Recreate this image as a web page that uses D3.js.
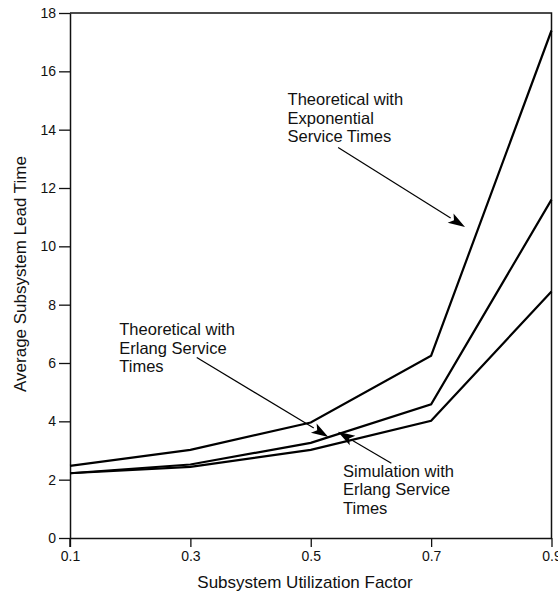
<!DOCTYPE html>
<html>
<head>
<meta charset="utf-8">
<script src="https://cdn.jsdelivr.net/npm/d3@7/dist/d3.min.js"></script>
<style>
  html, body { margin: 0; padding: 0; background: #fff; }
  svg { display: block; font-family: "Liberation Sans", Arial, Helvetica, sans-serif; }
</style>
</head>
<body>
<svg id="chart" width="558" height="594"></svg>
<script>
// Utilization factors on the x axis
const utilization = [0.1, 0.3, 0.5, 0.7, 0.9];

// Average subsystem lead time for each curve
const theoreticalExponential = [2.47, 3.02, 3.96, 6.25, 17.4];
const theoreticalErlang      = [2.22, 2.52, 3.26, 4.58, 11.6];
const simulationErlang       = [2.22, 2.44, 3.02, 4.02, 8.45];

// Axis ticks
const xTicks = [0.1, 0.3, 0.5, 0.7, 0.9];
const yTicks = [0, 2, 4, 6, 8, 10, 12, 14, 16, 18];

// Annotation texts
const labelExponential = ["Theoretical with", "Exponential", "Service Times"];
const labelErlang      = ["Theoretical with", "Erlang Service", "Times"];
const labelSimulation  = ["Simulation with", "Erlang Service", "Times"];

const svg = d3.select("#chart");
const plotLeft = 70, plotRight = 551.5, plotTop = 13, plotBottom = 538;

const x = d3.scaleLinear().domain([0.1, 0.9]).range([plotLeft, plotRight]);
const y = d3.scaleLinear().domain([0, 18]).range([plotBottom, plotTop]);

// Frame (top and right edges)
svg.append("path")
  .attr("d", `M${plotLeft},${plotTop}H${plotRight}V${plotBottom}`)
  .attr("fill", "none")
  .attr("stroke", "#111")
  .attr("stroke-width", 1.5);

// Axes
const xAxis = svg.append("g")
  .attr("transform", `translate(0,${plotBottom})`)
  .call(d3.axisBottom(x).tickValues(xTicks).tickFormat(d3.format(".1f"))
    .tickSize(9).tickPadding(4).tickSizeOuter(0));
const yAxis = svg.append("g")
  .attr("transform", `translate(${plotLeft},0)`)
  .call(d3.axisLeft(y).tickValues(yTicks).tickFormat(d3.format("d"))
    .tickSize(11).tickPadding(3).tickSizeOuter(0));

[xAxis, yAxis].forEach(g => {
  g.select(".domain").attr("stroke", "#111").attr("stroke-width", 1.5);
  g.selectAll(".tick line").attr("stroke", "#111").attr("stroke-width", 1.3);
  g.selectAll(".tick text")
    .attr("fill", "#111")
    .style("font-family", "'Liberation Sans', Arial, sans-serif")
    .style("font-size", "14px");
});
// y axis line continues down to the x tick length
svg.append("line")
  .attr("x1", plotLeft).attr("x2", plotLeft)
  .attr("y1", plotBottom).attr("y2", plotBottom + 9)
  .attr("stroke", "#111").attr("stroke-width", 1.5);

// Axis titles
svg.append("text")
  .attr("x", 305).attr("y", 588)
  .attr("text-anchor", "middle")
  .attr("fill", "#111")
  .style("font-size", "17px")
  .text("Subsystem Utilization Factor");

svg.append("text")
  .attr("transform", "translate(26,274) rotate(-90)")
  .attr("text-anchor", "middle")
  .attr("fill", "#111")
  .style("font-size", "17px")
  .text("Average Subsystem Lead Time");

// Curves
const line = d3.line()
  .x((d, i) => x(utilization[i]))
  .y(d => y(d));

[theoreticalExponential, theoreticalErlang, simulationErlang].forEach(series => {
  svg.append("path")
    .datum(series)
    .attr("d", line)
    .attr("fill", "none")
    .attr("stroke", "#000")
    .attr("stroke-width", 2.2)
    .attr("stroke-linejoin", "miter");
});

// Annotations: text block + arrow pointing at a curve (coordinates in data units)
function annotate(lines, tx, ty, from, to) {
  const t = svg.append("text")
    .attr("fill", "#111")
    .style("font-size", "16.5px");
  lines.forEach((s, i) => {
    t.append("tspan").attr("x", x(tx)).attr("y", y(ty) + i * 18.5).text(s);
  });
  const x0 = x(from[0]), y0 = y(from[1]);
  const x1 = x(to[0]), y1 = y(to[1]);
  const ang = Math.atan2(y1 - y0, x1 - x0);
  const headLen = 17, headHalf = 5.5;
  const bx = x1 - headLen * Math.cos(ang), by = y1 - headLen * Math.sin(ang);
  svg.append("line")
    .attr("x1", x0).attr("y1", y0).attr("x2", bx).attr("y2", by)
    .attr("stroke", "#000").attr("stroke-width", 1.2);
  const px = -Math.sin(ang) * headHalf, py = Math.cos(ang) * headHalf;
  svg.append("path")
    .attr("d", `M${x1},${y1}L${bx + px},${by + py}L${bx + 4 * Math.cos(ang)},${by + 4 * Math.sin(ang)}L${bx - px},${by - py}Z`)
    .attr("fill", "#000");
}

// Theoretical with exponential service times
annotate(labelExponential, 0.4615, 14.84, [0.5455, 13.39], [0.7563, 10.66]);
// Theoretical with Erlang service times
annotate(labelErlang, 0.1819, 6.959, [0.3106, 6.19], [0.5292, 3.467]);
// Simulation with Erlang service times
annotate(labelSimulation, 0.5536, 2.101, [0.6339, 2.561], [0.5451, 3.64]);
</script>
</body>
</html>
